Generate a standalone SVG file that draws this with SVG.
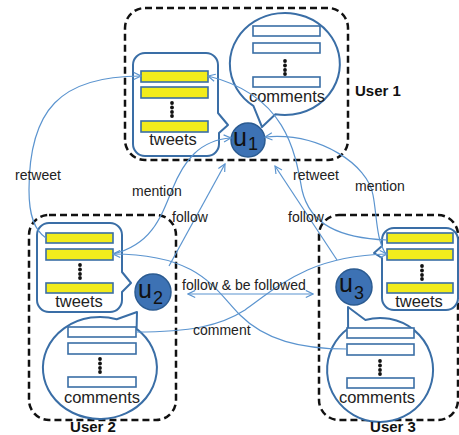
<svg xmlns="http://www.w3.org/2000/svg" width="459" height="435" viewBox="0 0 459 435">
  <style>
    .box { fill: none; stroke: #111; stroke-width: 2.5; stroke-dasharray: 7 4; }
    .bubble { fill: #fff; stroke: #3a6ea6; stroke-width: 2; stroke-linejoin: round; }
    .tw { fill: #f2ec1c; stroke: #3a6ea6; stroke-width: 1.6; }
    .cm { fill: #fff; stroke: #3a6ea6; stroke-width: 1.6; }
    .dot { fill: #111; }
    .user { fill: #3d72b4; stroke: #2b5b91; stroke-width: 1.5; }
    .utext { font-family: "Liberation Sans", Arial, sans-serif; font-size: 25px; fill: #111; }
    .sub { font-size: 18px; }
    .inner { font-family: "Liberation Sans", Arial, sans-serif; font-size: 16.5px; fill: #222; text-anchor: middle; }
    .name { font-family: "Liberation Sans", Arial, sans-serif; font-size: 15px; font-weight: bold; fill: #111; }
    .lbl { font-family: "Liberation Sans", Arial, sans-serif; font-size: 14px; fill: #222; }
    .edge { fill: none; stroke: #5b94cf; stroke-width: 1.2; }
  </style>
  <defs>
    <marker id="arr" viewBox="0 0 10 10" refX="9" refY="5" markerWidth="9" markerHeight="9" markerUnits="userSpaceOnUse" orient="auto-start-reverse">
      <path d="M1,1 L9,5 L1,9" fill="none" stroke="#5b94cf" stroke-width="1.3"/>
    </marker>
  </defs>

  <rect width="459" height="435" fill="#fff"/>

  <!-- User 1 -->
  <g id="user1">
    <rect class="box" x="125" y="8" width="223" height="152" rx="20"/>
    <path class="bubble" d="M145,53 H206 A12,12 0 0 1 218,65 V113 L228,125 L219,133 V144 A12,12 0 0 1 207,156 H145 A12,12 0 0 1 133,144 V65 A12,12 0 0 1 145,53 Z"/>
    <rect class="tw" x="141" y="71" width="67" height="11"/>
    <rect class="tw" x="141" y="87" width="67" height="11"/>
    <circle class="dot" cx="172" cy="103" r="1.9"/>
    <circle class="dot" cx="172" cy="107.5" r="1.9"/>
    <circle class="dot" cx="172" cy="112" r="1.9"/>
    <circle class="dot" cx="172" cy="116" r="1.9"/>
    <rect class="tw" x="141" y="121" width="67" height="11"/>
    <text class="inner" x="173" y="145">tweets</text>
    <path class="bubble" d="M253.4,105.8 L262,127 L275.4,114.2 A55,51 0 1 0 253.4,105.8 Z"/>
    <rect class="cm" x="253" y="26" width="67" height="10"/>
    <rect class="cm" x="253" y="43" width="67" height="10"/>
    <circle class="dot" cx="285" cy="61" r="1.9"/>
    <circle class="dot" cx="285" cy="65.5" r="1.9"/>
    <circle class="dot" cx="285" cy="70" r="1.9"/>
    <circle class="dot" cx="285" cy="74" r="1.9"/>
    <rect class="cm" x="253" y="77" width="67" height="10"/>
    <text class="inner" x="287" y="102">comments</text>
    <circle class="user" cx="248" cy="140" r="17"/>
    <text class="utext" x="233" y="146">u<tspan class="sub" dx="1" dy="4">1</tspan></text>
    <text class="name" x="355" y="96">User 1</text>
  </g>

  <!-- User 2 -->
  <g id="user2">
    <rect class="box" x="29" y="215" width="147" height="205" rx="20"/>
    <path class="bubble" d="M49,223 H110 A12,12 0 0 1 122,235 V272 L131,283 L122,292 V300 A12,12 0 0 1 110,312 H49 A12,12 0 0 1 37,300 V235 A12,12 0 0 1 49,223 Z"/>
    <rect class="tw" x="46" y="233" width="67" height="10"/>
    <rect class="tw" x="46" y="249" width="67" height="11"/>
    <circle class="dot" cx="80" cy="265" r="1.9"/>
    <circle class="dot" cx="80" cy="269.5" r="1.9"/>
    <circle class="dot" cx="80" cy="274" r="1.9"/>
    <circle class="dot" cx="80" cy="278" r="1.9"/>
    <rect class="tw" x="46" y="283" width="67" height="10"/>
    <text class="inner" x="79" y="307">tweets</text>
    <path class="bubble" d="M116.7,319.2 L137,312 L136.6,328.9 A57,51 0 1 1 116.7,319.2 Z"/>
    <rect class="cm" x="68" y="327" width="68" height="10"/>
    <rect class="cm" x="68" y="343" width="68" height="11"/>
    <circle class="dot" cx="100" cy="359" r="1.9"/>
    <circle class="dot" cx="100" cy="363.5" r="1.9"/>
    <circle class="dot" cx="100" cy="368" r="1.9"/>
    <circle class="dot" cx="100" cy="372" r="1.9"/>
    <rect class="cm" x="68" y="377" width="68" height="10"/>
    <text class="inner" x="102" y="403">comments</text>
    <circle class="user" cx="153" cy="292" r="18"/>
    <text class="utext" x="138" y="298">u<tspan class="sub" dx="1" dy="6">2</tspan></text>
    <text class="name" x="93" y="432" text-anchor="middle" font-size="13">User 2</text>
  </g>

  <!-- User 3 -->
  <g id="user3">
    <rect class="box" x="319" y="215" width="139" height="205" rx="20"/>
    <path class="bubble" d="M394,228 H446 A12,12 0 0 1 458,240 V298 A12,12 0 0 1 446,310 H394 A12,12 0 0 1 382,298 V258 L374,253 L382,246 V240 A12,12 0 0 1 394,228 Z"/>
    <rect class="tw" x="387" y="233" width="66" height="10"/>
    <rect class="tw" x="387" y="249" width="66" height="11"/>
    <circle class="dot" cx="422" cy="266" r="1.9"/>
    <circle class="dot" cx="422" cy="270.5" r="1.9"/>
    <circle class="dot" cx="422" cy="275" r="1.9"/>
    <circle class="dot" cx="422" cy="279" r="1.9"/>
    <rect class="tw" x="387" y="283" width="66" height="10"/>
    <text class="inner" x="419" y="307">tweets</text>
    <path class="bubble" d="M348.1,328.5 L348,307 L365.4,320 A53,52 0 1 1 348.1,328.5 Z"/>
    <rect class="cm" x="347" y="328" width="67" height="10"/>
    <rect class="cm" x="347" y="344" width="67" height="11"/>
    <circle class="dot" cx="380" cy="361" r="1.9"/>
    <circle class="dot" cx="380" cy="365.5" r="1.9"/>
    <circle class="dot" cx="380" cy="370" r="1.9"/>
    <circle class="dot" cx="380" cy="374" r="1.9"/>
    <rect class="cm" x="347" y="378" width="67" height="10"/>
    <text class="inner" x="377" y="403">comments</text>
    <circle class="user" cx="354" cy="287" r="18"/>
    <text class="utext" x="339" y="292">u<tspan class="sub" dx="1" dy="7">3</tspan></text>
    <text class="name" x="393" y="432" text-anchor="middle" font-size="13">User 3</text>
  </g>

  <!-- Connectors -->
  <g id="connectors">
    <!-- retweets into user 1's tweets -->
    <path class="edge" d="M46,238 C34,230 29,215 29,190 C29,110 60,76 141,76" marker-end="url(#arr)"/>
    <path class="edge" d="M387,240 C340,238 310,225 302,190 C295,150 285,95 208,76" marker-end="url(#arr)"/>
    <!-- mentions of u1 -->
    <path class="edge" d="M113,254 C150,245 160,220 172,190 C184,160 200,140 231,138" marker-end="url(#arr)"/>
    <path class="edge" d="M386,254 C376,240 377,215 373,195 C368,165 320,132 265,137" marker-end="url(#arr)"/>
    <!-- follows -->
    <path class="edge" d="M169,266 L225,164" marker-end="url(#arr)"/>
    <path class="edge" d="M337,260 L275,166" marker-end="url(#arr)"/>
    <path class="edge" d="M188,294 L313,294" marker-start="url(#arr)" marker-end="url(#arr)"/>
    <!-- comments -->
    <path class="edge" d="M347,349 C300,349 265,340 240,315 C215,290 200,254 113,254" marker-end="url(#arr)"/>
    <path class="edge" d="M136,332 C190,332 220,326 245,310 C280,285 310,256 387,254" marker-end="url(#arr)"/>

    <text class="lbl" x="15" y="180">retweet</text>
    <text class="lbl" x="132" y="196">mention</text>
    <text class="lbl" x="172" y="222">follow</text>
    <text class="lbl" x="293" y="180">retweet</text>
    <text class="lbl" x="355" y="191">mention</text>
    <text class="lbl" x="288" y="222">follow</text>
    <text class="lbl" x="182" y="290">follow &amp; be followed</text>
    <text class="lbl" x="193" y="335">comment</text>
  </g>
</svg>
